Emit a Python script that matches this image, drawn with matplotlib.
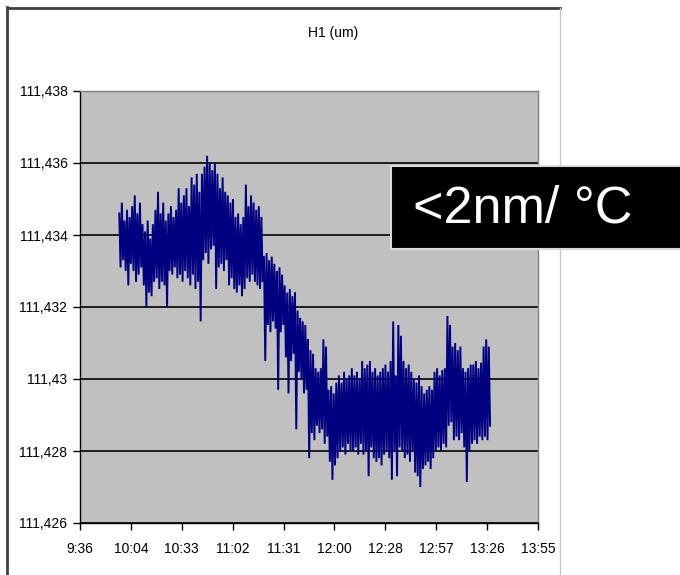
import numpy as np
import matplotlib
matplotlib.use("Agg")
import matplotlib.pyplot as plt
from matplotlib.patches import Rectangle
from matplotlib.lines import Line2D

# ---------------- data ----------------
title = "H1 (um)"
annotation = "<2nm/ \u00b0C"
base_um = 111.430              # offsets below are in nm relative to this
x_tick_labels = ["9:36", "10:04", "10:33", "11:02", "11:31",
                 "12:00", "12:28", "12:57", "13:26", "13:55"]
x_span_min = 259               # 9:36 -> 13:55
y_tick_values = [111.426, 111.428, 111.430, 111.432, 111.434, 111.436, 111.438]
y_tick_labels = ["111,426", "111,428", "111,43", "111,432", "111,434", "111,436", "111,438"]
t_first_min = 22.2             # first sample, minutes after 9:36
t_last_min = 231.9             # last sample

# H1 deviation (nm), before the drop
h1_nm_stable = [4.6, 3.1, 4.9, 3.3,
                4.4, 3.0, 4.7, 2.6, 4.5, 3.2,
                4.8, 3.0, 5.1, 2.7, 4.6, 2.9, 4.9, 3.1,
                4.3, 2.6, 4.1, 2.0, 4.4, 2.4, 3.9, 2.3, 4.3, 2.7,
                4.7, 2.8, 5.2, 2.5, 4.6, 2.7, 4.9, 2.6, 4.4, 2.0,
                4.6, 3.0, 4.8, 2.9, 4.5, 3.1, 4.7, 2.8,
                5.3, 2.9, 4.9, 2.7, 5.1, 3.0, 5.3, 2.8, 4.8, 2.6,
                5.6, 2.9, 5.4, 2.5, 5.7, 2.7, 5.2, 1.6,
                5.7, 3.3, 5.9, 3.5, 6.2, 3.2, 6.0, 3.6,
                5.8, 3.7, 6.0, 2.5,
                5.7, 3.1, 5.3, 3.2, 5.6, 3.0, 5.2, 3.3,
                5.1, 2.6, 4.9, 2.8, 5.0, 2.5,
                4.5, 2.4, 4.6, 2.6, 4.3, 2.3, 4.5, 2.5,
                5.4, 2.8, 4.8, 2.7, 5.1, 2.9, 4.9, 2.7,
                4.7, 2.6, 4.8, 2.5, 4.5, 2.7]
# during the drop
h1_nm_drop = [3.4, 0.5,
              3.5, 1.5, 3.3, 1.3, 3.4, 1.6,
              3.2, 1.4, 3.0, -0.3, 3.1, 1.3, 2.9, 1.5,
              2.6, 0.6, 2.4, -0.4, 2.5, 0.5, 2.3, 0.7,
              2.4, -1.4, 1.9, 0.2, 1.7, 0.0,
              1.6, -0.4, 1.5, -0.3,
              1.1, -2.2, 0.8, -1.5, 0.7, -1.7,
              0.3, -1.3, 0.2, -1.5, 0.3, -1.4,
              1.1, -1.8, 0.9, -1.6]
# after the drop
h1_nm_low = [-0.3, -2.3, -0.2, -2.8, -0.4, -2.4, -0.1, -2.2,
             0.1, -2.0, -0.1, -1.9, 0.2, -2.1, 0.0, -1.8, 0.1, -2.0,
             0.3, -2.0, 0.1, -1.9, 0.2, -2.1, 0.0, -1.8,
             0.5, -2.1, 0.3, -2.0, 0.4, -2.7, 0.5, -1.9, 0.2, -2.2,
             0.3, -2.3, 0.1, -2.2, 0.2, -2.4, 0.3, -2.1,
             0.4, -2.0, 0.2, -2.2, 0.5, -2.8, 1.6, -2.0,
             0.1, -2.7,
             1.5, -1.9, 1.2, -2.0,
             0.5, -2.2, 0.3, -2.1, 0.4, -2.3, 0.2, -2.0,
             0.0, -2.6, -0.1, -2.7, 0.1, -3.0, -0.2, -2.5,
             -0.4, -2.4, -0.3, -2.3, -0.2, -2.5, -0.3, -2.2,
             0.2, -2.0, 0.3, -1.9, 0.1, -2.0, 0.25, -1.8, 0.3, -1.9,
             1.75, -1.3, 1.5, -1.2,
             0.9, -1.7, 1.0, -1.6, 0.8, -1.7, 0.9, -1.5,
             0.3, -1.9, 0.2, -2.86, 0.3, -2.0, 0.4, -1.8,
             0.4, -1.7, 0.5, -1.8, 0.3, -1.6, 0.45, -1.7,
             0.9, -1.6, 1.1, -1.7, 0.9, -1.3]

# ---------------- figure ----------------
W, H = 680, 575
fig = plt.figure(figsize=(W / 100, H / 100), dpi=100)
fig.patch.set_facecolor("white")

small_font = ["Liberation Sans", "DejaVu Sans"]

ax = fig.add_axes([80 / W, 1 - 523 / H, (538 - 80) / W, (523 - 91) / H])
ax.set_facecolor("#c0c0c0")

h1_nm = np.array(h1_nm_stable + h1_nm_drop + h1_nm_low)
h1_um = base_um + h1_nm / 1000.0
t_min = np.linspace(t_first_min, t_last_min, len(h1_um))

ax.plot(t_min, h1_um, color="#000080", lw=1.4, zorder=3,
        solid_joinstyle="miter")

ax.set_xlim(0, x_span_min)
ax.set_ylim(111.426, 111.438)
xt = [i * x_span_min / 9 for i in range(10)]
ax.set_xticks(xt)
ax.set_xticklabels(x_tick_labels, fontfamily=small_font, fontsize=10)
ax.set_yticks(y_tick_values)
ax.set_yticklabels(y_tick_labels, fontfamily=small_font, fontsize=10)

ax.yaxis.grid(True, color="black", lw=1.2, zorder=1)
ax.set_axisbelow(True)
ax.tick_params(axis="x", direction="out", length=5, width=1, pad=9, colors="black")
ax.tick_params(axis="y", direction="out", length=5, width=1, pad=4, colors="black")
for s in ("left", "bottom"):
    ax.spines[s].set_color("black")
    ax.spines[s].set_linewidth(1.0)
for s in ("top", "right"):
    ax.spines[s].set_color("#808080")
    ax.spines[s].set_linewidth(1.0)

# chart title
fig.text(333 / W, 1 - 33 / H, title, ha="center", va="center",
         fontfamily=small_font, fontsize=10, color="black")

# chart-area frame
fig.add_artist(Line2D([7 / W, 7 / W], [0, 1 - 7 / H], color="#404040", lw=2,
                      transform=fig.transFigure))
fig.add_artist(Line2D([7 / W, 560 / W], [1 - 8 / H, 1 - 8 / H], color="#404040", lw=2,
                      transform=fig.transFigure))
fig.add_artist(Line2D([560 / W, 560 / W], [0, 1 - 8 / H], color="#c8c8c8", lw=1,
                      transform=fig.transFigure))

# annotation box
box = Rectangle((391 / W, 1 - 249 / H), (W - 391) / W + 0.02, 83 / H,
                transform=fig.transFigure, facecolor="black",
                edgecolor="#d9d9d9", lw=1.5, zorder=10)
fig.add_artist(box)
fig.text(413 / W, 1 - 209 / H, annotation, ha="left", va="center",
         color="white", fontsize=37.5,
         fontfamily=["Liberation Sans", "DejaVu Sans"], zorder=11)

fig.savefig("out.png", dpi=100)
